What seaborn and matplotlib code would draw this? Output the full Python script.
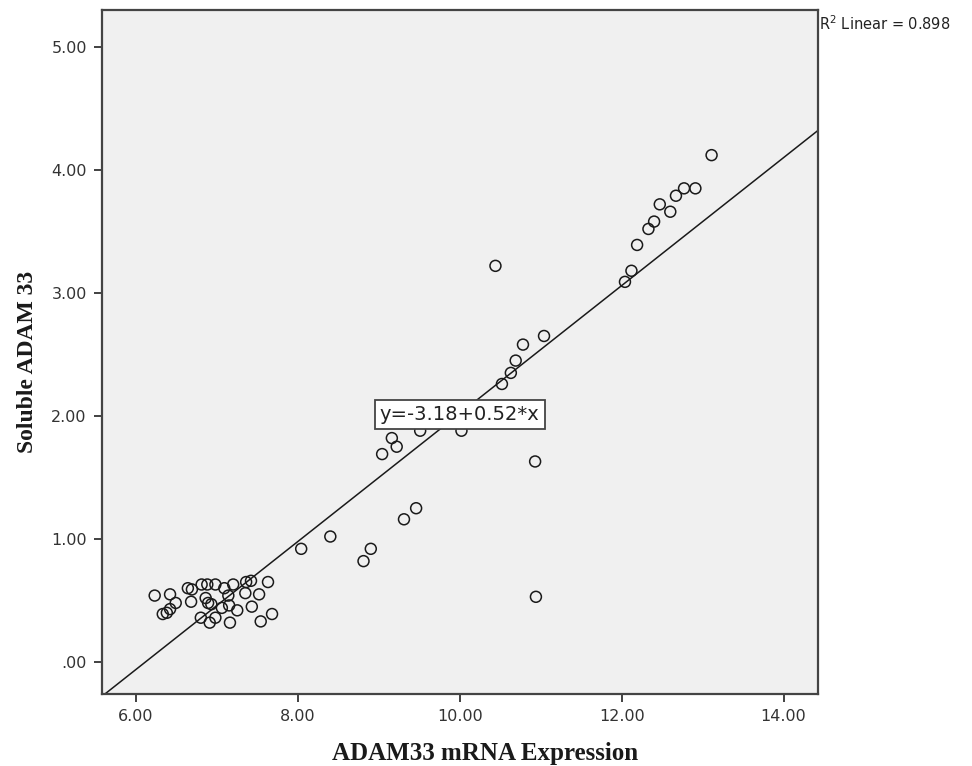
import matplotlib
matplotlib.use("Agg")
import matplotlib.pyplot as plt
import seaborn as sns
import pandas as pd
import numpy as np

# ---- data ----
mrna = [13.11, 12.91, 12.77, 12.67, 12.60, 12.47, 12.40, 12.33, 12.19, 12.12, 12.04,
        10.44, 11.04, 10.78, 10.69, 10.63, 10.52, 10.02, 9.51, 9.16, 9.22, 9.04,
        10.93, 10.94, 9.46, 9.31, 8.90, 8.81, 8.40, 8.04,
        6.23, 6.42, 6.49, 6.42, 6.38, 6.33, 6.64, 6.69, 6.68, 6.81, 6.88, 6.98,
        6.86, 6.89, 6.93, 7.09, 7.20, 7.36, 7.42, 7.63, 7.35, 7.52, 7.14, 7.15,
        7.06, 7.25, 7.43, 6.80, 6.91, 6.98, 7.16, 7.54, 7.68]
soluble = [4.12, 3.85, 3.85, 3.79, 3.66, 3.72, 3.58, 3.52, 3.39, 3.18, 3.09,
           3.22, 2.65, 2.58, 2.45, 2.35, 2.26, 1.88, 1.88, 1.82, 1.75, 1.69,
           1.63, 0.53, 1.25, 1.16, 0.92, 0.82, 1.02, 0.92,
           0.54, 0.55, 0.48, 0.43, 0.40, 0.39, 0.60, 0.59, 0.49, 0.63, 0.63, 0.63,
           0.52, 0.48, 0.47, 0.60, 0.63, 0.65, 0.66, 0.65, 0.56, 0.55, 0.54, 0.46,
           0.44, 0.42, 0.45, 0.36, 0.32, 0.36, 0.32, 0.33, 0.39]
intercept = -3.18
slope = 0.52
r2 = 0.898
x_ticks = [6, 8, 10, 12, 14]
x_tick_labels = ["6.00", "8.00", "10.00", "12.00", "14.00"]
y_ticks = [0, 1, 2, 3, 4, 5]
y_tick_labels = [".00", "1.00", "2.00", "3.00", "4.00", "5.00"]
x_label = "ADAM33 mRNA Expression"
y_label = "Soluble ADAM 33"
xlim = (5.58, 14.43)
ylim = (-0.26, 5.30)

df = pd.DataFrame({"mrna": mrna, "soluble": soluble})

sns.set_style("ticks")
fig = plt.figure(figsize=(9.72, 7.66), dpi=100)
ax = fig.add_axes([0.105, 0.094, 0.737, 0.893])
ax.set_facecolor("#f0f0f0")

# fit line from stated coefficients
line_df = pd.DataFrame({"x": list(xlim)})
line_df["y"] = intercept + slope * line_df["x"]
sns.lineplot(data=line_df, x="x", y="y", ax=ax, color="#1a1a1a", linewidth=1.1)

sns.scatterplot(data=df, x="mrna", y="soluble", ax=ax, s=62,
                facecolor="none", edgecolor="#1a1a1a", linewidth=1.1, zorder=3)

ax.set_xlim(*xlim)
ax.set_ylim(*ylim)
ax.set_xticks(x_ticks)
ax.set_xticklabels(x_tick_labels)
ax.set_yticks(y_ticks)
ax.set_yticklabels(y_tick_labels)
ax.tick_params(axis="both", direction="out", length=6, width=1.3, color="#333333",
               labelsize=11.5, labelcolor="#333333", pad=5)
for lab in ax.get_xticklabels() + ax.get_yticklabels():
    lab.set_family("DejaVu Sans")
for sp in ax.spines.values():
    sp.set_visible(True)
    sp.set_color("#444444")
    sp.set_linewidth(1.6)

ax.set_xlabel(x_label, family="Liberation Serif", fontweight="bold", fontsize=18,
              color="#1a1a1a", va="center")
ax.set_ylabel(y_label, family="Liberation Serif", fontweight="bold", fontsize=17,
              color="#1a1a1a", va="center")
ax.xaxis.set_label_coords(0.535, -0.087)
ax.yaxis.set_label_coords(-0.104, 0.485)

ax.text(10.0, 2.01, f"y={intercept:.2f}+{slope:.2f}*x", ha="center", va="center",
        fontsize=14, family="DejaVu Sans", color="#222222",
        bbox=dict(boxstyle="square,pad=0.25", facecolor="white", edgecolor="#444444", linewidth=1.3),
        zorder=5)

fig.text(0.843, 0.969, f"R$^2$ Linear = {r2:.3f}", ha="left", va="center",
         fontsize=10.5, family="DejaVu Sans", color="#222222")

fig.savefig("out.png", dpi=100)
